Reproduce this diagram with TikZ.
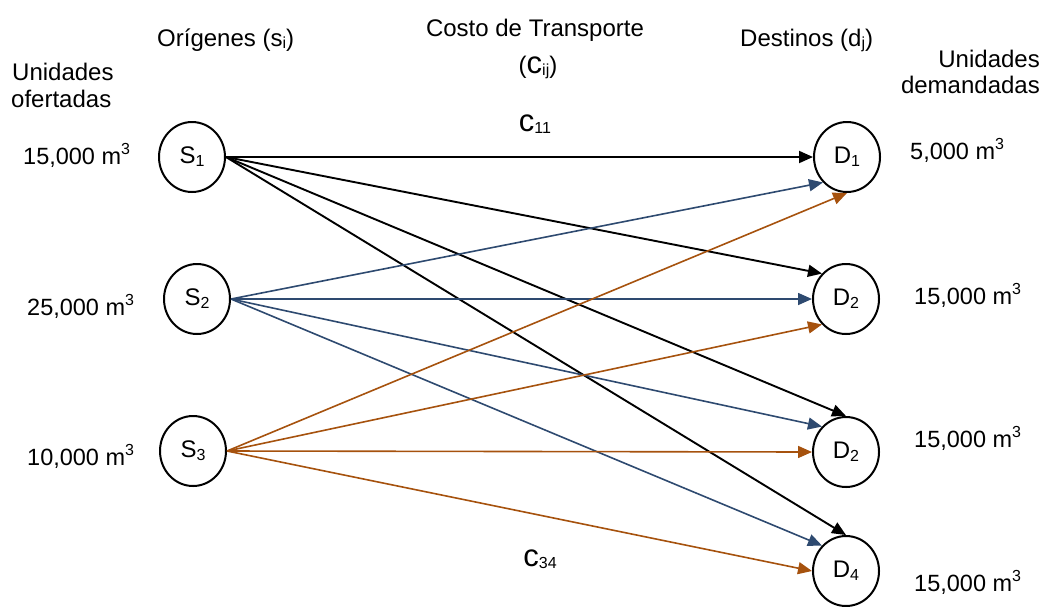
\documentclass[tikz,border=0pt]{standalone}
\usepackage{fontspec}
\setmainfont{Liberation Sans}
\usetikzlibrary{arrows.meta,shapes.geometric}

\definecolor{flowblue}{RGB}{46,74,112}
\definecolor{flowbrown}{RGB}{166,82,14}

% small lowered index and raised exponent
\newcommand{\idx}[1]{\raisebox{-0.12em}{\fontsize{16}{16}\selectfont #1}}
\newcommand{\cub}{\raisebox{0.40em}{\fontsize{16}{16}\selectfont 3}}
\newcommand{\bigc}{{\fontsize{31}{34}\selectfont c}}

\begin{document}
\begin{tikzpicture}[x=1pt,y=-1pt,
  head/.style={inner sep=0pt,font=\fontsize{24}{28}\selectfont},
  qty/.style={inner sep=0pt,anchor=base west,font=\fontsize{23.5}{27}\selectfont},
  cost/.style={inner sep=0pt,anchor=base,font=\fontsize{24}{28}\selectfont},
  site/.style={draw,line width=2pt,ellipse,minimum width=66pt,minimum height=70pt,inner sep=0pt,font=\fontsize{24}{26}\selectfont},
  flow/.style={line width=1.6pt,-{Triangle[length=14pt,width=12pt]}},
  blk/.style={flow,black,line width=1.9pt},
  blu/.style={flow,flowblue},
  brn/.style={flow,flowbrown}]
\useasboundingbox (0,0) rectangle (1043,606);

% column headings
\node[head,anchor=base west] (hsup1) at (12,80) {Unidades};
\node[head,anchor=base west] (hsup2) at (11,107) {ofertadas};
\node[head,anchor=base west] (horig) at (157,46) {Orígenes (s\idx{i})};
\node[head,anchor=base] (hcost1) at (535,36) {Costo de Transporte};
\node[head,anchor=base] (hcost2) at (538,73) {(\bigc\idx{ij})};
\node[head,anchor=base west] (hdest) at (740,46) {Destinos (d\idx{j})};
\node[head,anchor=base east] (hdem1) at (1040,67) {Unidades};
\node[head,anchor=base east] (hdem2) at (1040,93) {demandadas};

% origins and destinations
\node[site] (S1) at (192,157) {S\idx{1}};
\node[site] (S2) at (197,299) {S\idx{2}};
\node[site] (S3) at (193,451) {S\idx{3}};
\node[site] (D1) at (847,157) {D\idx{1}};
\node[site] (D2) at (846,299) {D\idx{2}};
\node[site] (D3) at (846,452) {D\idx{2}};
\node[site] (D4) at (846,571) {D\idx{4}};

% supplies and demands
\node[qty] (o1) at (23,164) {15,000 m\cub};
\node[qty] (o2) at (27,315) {25,000 m\cub};
\node[qty] (o3) at (27,465) {10,000 m\cub};
\node[qty] (d1) at (910,159) {5,000 m\cub};
\node[qty] (d2) at (914,304) {15,000 m\cub};
\node[qty] (d3) at (914,447) {15,000 m\cub};
\node[qty] (d4) at (914,591) {15,000 m\cub};

% cost labels
\node[cost] (c11) at (535,131) {\bigc\idx{11}};
\node[cost] (c34) at (540,566) {\bigc\idx{34}};

% routes from S1
\draw[blk] (S1.east) -- (D1.west);
\draw[blk] (S1.east) -- (D2.north west);
\draw[blk] (S1.east) -- (D3.north);
\draw[blk] (S1.east) -- (D4.north);
% routes from S2
\draw[blu] (S2.east) -- (D1.south west);
\draw[blu] (S2.east) -- (D2.west);
\draw[blu] (S2.east) -- (D3.north west);
\draw[blu] (S2.east) -- (D4.north west);
% routes from S3
\draw[brn] (S3.east) -- (D1.south);
\draw[brn] (S3.east) -- (D2.south west);
\draw[brn] (S3.east) -- (D3.west);
\draw[brn] (S3.east) -- (D4.west);
\end{tikzpicture}
\end{document}
